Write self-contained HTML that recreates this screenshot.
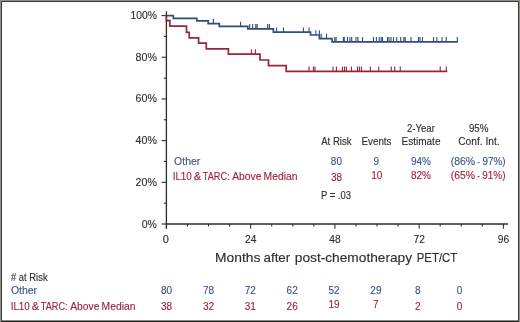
<!DOCTYPE html>
<html><head><meta charset="utf-8"><style>
html,body{margin:0;padding:0;background:#fff;}
body{width:520px;height:322px;overflow:hidden;}
svg{display:block;will-change:transform;}
text{font-family:"Liberation Sans",sans-serif;fill:#2c2c2a;stroke:#2c2c2a;stroke-width:0.12px;}
.b{stroke:#3a5483;}
.r{stroke:#9e2139;}
.t10{font-size:10px;}
.t11{font-size:11px;}
.t13{font-size:13px;}
.b{fill:#3a5483;}
.r{fill:#9e2139;}
</style></head><body>
<svg width="520" height="322" viewBox="0 0 520 322">
<g shape-rendering="crispEdges">
<rect x="0" y="0" width="520" height="1" fill="#8e8e8a"/>
<rect x="0" y="0" width="1" height="322" fill="#8e8e8a"/>
<rect x="519" y="0" width="1" height="322" fill="#8e8e8a"/>
<rect x="1" y="1" width="518" height="1" fill="#3c3c38"/>
<rect x="1" y="1" width="1" height="321" fill="#3c3c38"/>
<rect x="518" y="1" width="1" height="321" fill="#3c3c38"/>
<rect x="2" y="320" width="516" height="1" fill="#8a8a86"/>
<rect x="2" y="321" width="516" height="1" fill="#1e1e18"/>
</g>
<line x1="166.4" y1="11.3" x2="166.4" y2="228.5" stroke="#2b2b28" stroke-width="1.3"/>
<line x1="166" y1="224.0" x2="507.9" y2="224.0" stroke="#2b2b28" stroke-width="1.55"/>
<line x1="161.6" y1="224.00" x2="166.4" y2="224.00" stroke="#2b2b28" stroke-width="1.1"/>
<line x1="163.8" y1="203.16" x2="166.4" y2="203.16" stroke="#2b2b28" stroke-width="1.1"/>
<line x1="161.6" y1="182.32" x2="166.4" y2="182.32" stroke="#2b2b28" stroke-width="1.1"/>
<line x1="163.8" y1="161.48" x2="166.4" y2="161.48" stroke="#2b2b28" stroke-width="1.1"/>
<line x1="161.6" y1="140.64" x2="166.4" y2="140.64" stroke="#2b2b28" stroke-width="1.1"/>
<line x1="163.8" y1="119.80" x2="166.4" y2="119.80" stroke="#2b2b28" stroke-width="1.1"/>
<line x1="161.6" y1="98.96" x2="166.4" y2="98.96" stroke="#2b2b28" stroke-width="1.1"/>
<line x1="163.8" y1="78.12" x2="166.4" y2="78.12" stroke="#2b2b28" stroke-width="1.1"/>
<line x1="161.6" y1="57.28" x2="166.4" y2="57.28" stroke="#2b2b28" stroke-width="1.1"/>
<line x1="163.8" y1="36.44" x2="166.4" y2="36.44" stroke="#2b2b28" stroke-width="1.1"/>
<line x1="161.6" y1="15.60" x2="166.4" y2="15.60" stroke="#2b2b28" stroke-width="1.1"/>
<line x1="166.40" y1="224" x2="166.40" y2="228.7" stroke="#2b2b28" stroke-width="1.05"/>
<line x1="187.46" y1="224" x2="187.46" y2="226.4" stroke="#2b2b28" stroke-width="1.05"/>
<line x1="208.52" y1="224" x2="208.52" y2="226.4" stroke="#2b2b28" stroke-width="1.05"/>
<line x1="229.59" y1="224" x2="229.59" y2="226.4" stroke="#2b2b28" stroke-width="1.05"/>
<line x1="250.65" y1="224" x2="250.65" y2="228.7" stroke="#2b2b28" stroke-width="1.05"/>
<line x1="271.71" y1="224" x2="271.71" y2="226.4" stroke="#2b2b28" stroke-width="1.05"/>
<line x1="292.77" y1="224" x2="292.77" y2="226.4" stroke="#2b2b28" stroke-width="1.05"/>
<line x1="313.84" y1="224" x2="313.84" y2="226.4" stroke="#2b2b28" stroke-width="1.05"/>
<line x1="334.90" y1="224" x2="334.90" y2="228.7" stroke="#2b2b28" stroke-width="1.05"/>
<line x1="355.96" y1="224" x2="355.96" y2="226.4" stroke="#2b2b28" stroke-width="1.05"/>
<line x1="377.02" y1="224" x2="377.02" y2="226.4" stroke="#2b2b28" stroke-width="1.05"/>
<line x1="398.09" y1="224" x2="398.09" y2="226.4" stroke="#2b2b28" stroke-width="1.05"/>
<line x1="419.15" y1="224" x2="419.15" y2="228.7" stroke="#2b2b28" stroke-width="1.05"/>
<line x1="440.21" y1="224" x2="440.21" y2="226.4" stroke="#2b2b28" stroke-width="1.05"/>
<line x1="461.27" y1="224" x2="461.27" y2="226.4" stroke="#2b2b28" stroke-width="1.05"/>
<line x1="482.34" y1="224" x2="482.34" y2="226.4" stroke="#2b2b28" stroke-width="1.05"/>
<line x1="503.40" y1="224" x2="503.40" y2="228.7" stroke="#2b2b28" stroke-width="1.05"/>
<text x="156.9" y="227.50" text-anchor="end" class="t11" textLength="15.1" lengthAdjust="spacingAndGlyphs">0%</text>
<text x="156.9" y="185.82" text-anchor="end" class="t11" textLength="21.3" lengthAdjust="spacingAndGlyphs">20%</text>
<text x="156.9" y="144.14" text-anchor="end" class="t11" textLength="21.3" lengthAdjust="spacingAndGlyphs">40%</text>
<text x="156.9" y="102.46" text-anchor="end" class="t11" textLength="21.3" lengthAdjust="spacingAndGlyphs">60%</text>
<text x="156.9" y="60.78" text-anchor="end" class="t11" textLength="21.3" lengthAdjust="spacingAndGlyphs">80%</text>
<text x="156.9" y="19.10" text-anchor="end" class="t11" textLength="26.5" lengthAdjust="spacingAndGlyphs">100%</text>
<text x="165.90" y="242.9" text-anchor="middle" class="t11">0</text>
<text x="250.75" y="242.9" text-anchor="middle" class="t11" textLength="11.4" lengthAdjust="spacingAndGlyphs">24</text>
<text x="335.00" y="242.9" text-anchor="middle" class="t11" textLength="11.4" lengthAdjust="spacingAndGlyphs">48</text>
<text x="419.25" y="242.9" text-anchor="middle" class="t11" textLength="11.4" lengthAdjust="spacingAndGlyphs">72</text>
<text x="503.50" y="242.9" text-anchor="middle" class="t11" textLength="11.4" lengthAdjust="spacingAndGlyphs">96</text>
<text x="215.0" y="261.9" class="t13" textLength="45.4" lengthAdjust="spacingAndGlyphs">Months</text>
<text x="263.6" y="261.9" class="t13" textLength="26.6" lengthAdjust="spacingAndGlyphs">after</text>
<text x="294.8" y="261.9" class="t13" textLength="117.3" lengthAdjust="spacingAndGlyphs">post-chemotherapy</text>
<text x="416.7" y="261.9" class="t13" textLength="40.6" lengthAdjust="spacingAndGlyphs">PET/CT</text>
<path d="M166.4,14.9 H166.4 V20.6 H169.9 V26.2 H186.5 V32.4 H189.2 V37.8 H198.6 V43.1 H206.3 V48.85 H228.4 V54.1 H260.0 V60.0 H268.5 V65.6 H286.2 V71.35 H447.3" fill="none" stroke="#9a2439" stroke-width="1.7"/>
<path d="M166.4,15.6 H173.3 V18.3 H196.9 V20.8 H208.2 V23.7 H219.3 V26.45 H247.8 V28.9 H273.4 V32.2 H310.5 V35.0 H319.4 V38.6 H332.1 V41.8 H458.0" fill="none" stroke="#314d79" stroke-width="1.7"/>
<path d="M213.4,23.7 V18.90 M240.6,26.45 V21.65 M249.7,28.9 V24.10 M252.7,28.9 V24.10 M255.8,28.9 V24.10 M257.2,28.9 V24.10 M267.7,28.9 V24.10 M269.4,28.9 V24.10 M276.6,32.2 V27.40 M283.5,32.2 V27.40 M303.4,32.2 V27.40 M309.0,32.2 V27.40 M315.9,35.0 V30.20 M319.4,35.0 V30.20 M321.2,38.6 V33.80 M326.5,38.6 V33.80 M334.7,41.8 V37.00 M336.1,41.8 V37.00 M343.4,41.8 V37.00 M344.3,41.8 V37.00 M347.5,41.8 V37.00 M349.9,41.8 V37.00 M351.7,41.8 V37.00 M356.0,41.8 V37.00 M357.9,41.8 V37.00 M362.5,41.8 V37.00 M373.5,41.8 V37.00 M376.4,41.8 V37.00 M379.2,41.8 V37.00 M381.2,41.8 V37.00 M382.5,41.8 V37.00 M387.5,41.8 V37.00 M389.0,41.8 V37.00 M391.0,41.8 V37.00 M393.5,41.8 V37.00 M396.7,41.8 V37.00 M400.7,41.8 V37.00 M403.8,41.8 V37.00 M405.2,41.8 V37.00 M411.0,41.8 V37.00 M418.5,41.8 V37.00 M420.0,41.8 V37.00 M422.5,41.8 V37.00 M433.6,41.8 V37.00 M436.9,41.8 V37.00 M442.0,41.8 V37.00 M446.2,41.8 V37.00 M457.3,41.8 V37.00 " fill="none" stroke="#314d79" stroke-width="1.1"/>
<path d="M251.4,54.1 V49.30 M255.4,54.1 V49.30 M309.0,71.35 V66.55 M313.4,71.35 V66.55 M315.0,71.35 V66.55 M333.0,71.35 V66.55 M336.4,71.35 V66.55 M342.5,71.35 V66.55 M344.5,71.35 V66.55 M346.4,71.35 V66.55 M351.5,71.35 V66.55 M357.5,71.35 V66.55 M359.4,71.35 V66.55 M361.4,71.35 V66.55 M370.4,71.35 V66.55 M378.75,71.35 V66.55 M391.25,71.35 V66.55 M394.75,71.35 V66.55 M400.25,71.35 V66.55 M440.2,71.35 V66.55 M446.3,71.35 V66.55 " fill="none" stroke="#9a2439" stroke-width="1.1"/>
<text x="321.2" y="144.6" class="t10" textLength="30.4" lengthAdjust="spacingAndGlyphs">At Risk</text>
<text x="376.5" y="144.6" class="t10" text-anchor="middle" textLength="29.9" lengthAdjust="spacingAndGlyphs">Events</text>
<text x="420.9" y="131.6" class="t10" text-anchor="middle" textLength="28.0" lengthAdjust="spacingAndGlyphs">2-Year</text>
<text x="421" y="144.8" class="t10" text-anchor="middle">Estimate</text>
<text x="478.7" y="131.6" class="t10" text-anchor="middle" textLength="19.6" lengthAdjust="spacingAndGlyphs">95%</text>
<text x="478.9" y="144.8" class="t10" text-anchor="middle" textLength="41.4" lengthAdjust="spacingAndGlyphs">Conf. Int.</text>
<text x="174.1" y="164.8" class="t10 b" textLength="26.2" lengthAdjust="spacingAndGlyphs">Other</text>
<text x="172.65" y="179.6" class="t10 r" textLength="19.20" lengthAdjust="spacingAndGlyphs">IL10</text>
<text x="193.80" y="179.6" class="t10 r" textLength="7.40" lengthAdjust="spacingAndGlyphs">&amp;</text>
<text x="202.80" y="179.6" class="t10 r" textLength="26.80" lengthAdjust="spacingAndGlyphs">TARC:</text>
<text x="232.20" y="179.6" class="t10 r" textLength="29.20" lengthAdjust="spacingAndGlyphs">Above</text>
<text x="263.55" y="179.6" class="t10 r" textLength="33.90" lengthAdjust="spacingAndGlyphs">Median</text>
<text x="336.4" y="164.5" class="t10 b" text-anchor="middle">80</text>
<text x="336.5" y="180.6" class="t10 r" text-anchor="middle">38</text>
<text x="376.3" y="164.5" class="t10 b" text-anchor="middle">9</text>
<text x="376.7" y="178.8" class="t10 r" text-anchor="middle">10</text>
<text x="421" y="164.5" class="t10 b" text-anchor="middle">94%</text>
<text x="421" y="178.8" class="t10 r" text-anchor="middle">82%</text>
<text x="450.75" y="164.5" class="t10 b" textLength="24.42" lengthAdjust="spacingAndGlyphs">(86%</text>
<text x="477.15" y="164.5" class="t10 b" textLength="2.59" lengthAdjust="spacingAndGlyphs">-</text>
<text x="482.54" y="164.5" class="t10 b" textLength="22.97" lengthAdjust="spacingAndGlyphs">97%)</text>
<text x="450.75" y="178.7" class="t10 r" textLength="24.42" lengthAdjust="spacingAndGlyphs">(65%</text>
<text x="477.15" y="178.7" class="t10 r" textLength="2.59" lengthAdjust="spacingAndGlyphs">-</text>
<text x="482.33" y="178.7" class="t10 r" textLength="23.18" lengthAdjust="spacingAndGlyphs">91%)</text>
<text x="321" y="198.8" class="t10" textLength="29.9" lengthAdjust="spacingAndGlyphs">P = .03</text>
<text x="11" y="280.6" class="t10" textLength="36.6" lengthAdjust="spacingAndGlyphs"># at Risk</text>
<text x="11" y="293.6" class="t10 b" textLength="26.1" lengthAdjust="spacingAndGlyphs">Other</text>
<text x="10.65" y="309.8" class="t10 r" textLength="19.20" lengthAdjust="spacingAndGlyphs">IL10</text>
<text x="31.80" y="309.8" class="t10 r" textLength="7.40" lengthAdjust="spacingAndGlyphs">&amp;</text>
<text x="40.80" y="309.8" class="t10 r" textLength="26.80" lengthAdjust="spacingAndGlyphs">TARC:</text>
<text x="70.20" y="309.8" class="t10 r" textLength="29.20" lengthAdjust="spacingAndGlyphs">Above</text>
<text x="101.55" y="309.8" class="t10 r" textLength="33.90" lengthAdjust="spacingAndGlyphs">Median</text>
<text x="166.60" y="293.9" class="t10 b" text-anchor="middle">80</text>
<text x="166.60" y="310.0" class="t10 r" text-anchor="middle">38</text>
<text x="208.46" y="293.9" class="t10 b" text-anchor="middle">78</text>
<text x="208.46" y="310.0" class="t10 r" text-anchor="middle">32</text>
<text x="250.32" y="293.9" class="t10 b" text-anchor="middle">72</text>
<text x="250.32" y="310.0" class="t10 r" text-anchor="middle">31</text>
<text x="292.18" y="293.9" class="t10 b" text-anchor="middle">62</text>
<text x="292.18" y="310.0" class="t10 r" text-anchor="middle">26</text>
<text x="334.04" y="293.9" class="t10 b" text-anchor="middle">52</text>
<text x="334.04" y="307.8" class="t10 r" text-anchor="middle">19</text>
<text x="375.90" y="293.9" class="t10 b" text-anchor="middle">29</text>
<text x="375.90" y="307.8" class="t10 r" text-anchor="middle">7</text>
<text x="417.76" y="293.9" class="t10 b" text-anchor="middle">8</text>
<text x="417.76" y="310.0" class="t10 r" text-anchor="middle">2</text>
<text x="459.62" y="293.9" class="t10 b" text-anchor="middle">0</text>
<text x="459.62" y="310.0" class="t10 r" text-anchor="middle">0</text>
</svg>
</body></html>
